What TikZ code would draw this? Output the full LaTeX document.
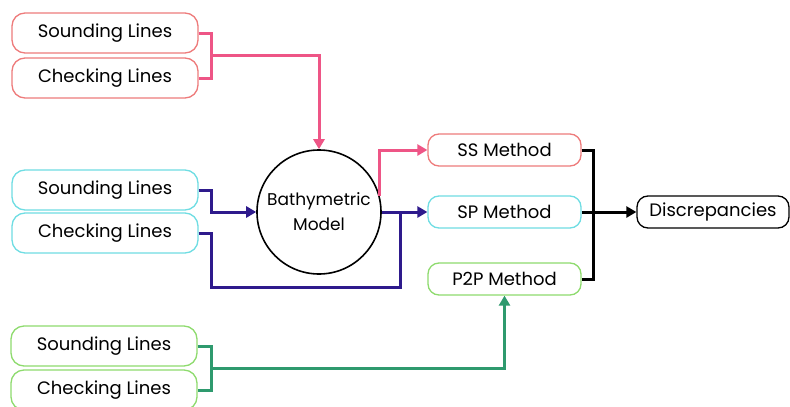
\documentclass[tikz,border=0pt]{standalone}
\usepackage{fontspec}
\setmainfont{Poppins}
\usetikzlibrary{arrows.meta}
\definecolor{redbox}{HTML}{EE7B7B}
\definecolor{pinkline}{HTML}{EE5586}
\definecolor{cyanbox}{HTML}{6FDDE3}
\definecolor{indigoline}{HTML}{2E1A8C}
\definecolor{greenbox}{HTML}{8EDB6E}
\definecolor{greenline}{HTML}{2E9A6E}
\tikzset{
  linebox/.style={draw, line width=1.3pt, rounded corners=13pt, minimum width=186pt, minimum height=40pt, inner sep=0pt, font=\fontsize{18}{20}\selectfont},
  methodbox/.style={draw, line width=1.3pt, rounded corners=11pt, minimum width=153pt, minimum height=32pt, inner sep=0pt, font=\fontsize{18}{20}\selectfont},
  conn/.style={line width=3pt},
  arr/.style={conn, -{Triangle[length=10pt,width=11pt]}},
}
\begin{document}
\begin{tikzpicture}[x=1pt,y=-1pt]
\useasboundingbox (0,0) rectangle (790,407);
\fill[white] (0,0) rectangle (790,407);
% source boxes
\node[linebox, draw=redbox] (rs) at (105,33) {Sounding Lines};
\node[linebox, draw=redbox] (rc) at (105,78) {Checking Lines};
\node[linebox, draw=cyanbox] (cs) at (105,190) {Sounding Lines};
\node[linebox, draw=cyanbox] (cc) at (105,233) {Checking Lines};
\node[linebox, draw=greenbox] (gs) at (104,346) {Sounding Lines};
\node[linebox, draw=greenbox] (gc) at (104,390) {Checking Lines};
% model
\node[circle, draw, line width=1.6pt, minimum size=124pt, inner sep=0pt, align=center, font=\fontsize{17}{25}\selectfont] (bm) at (319,212) {Bathymetric\\Model};
% methods
\node[methodbox, draw=redbox] (ss) at (504.5,150) {SS Method};
\node[methodbox, draw=cyanbox] (sp) at (504.5,212) {SP Method};
\node[methodbox, draw=greenbox] (pp) at (504.5,279) {P2P Method};
\node[methodbox, draw=black, minimum width=152pt] (disc) at (713,212) {Discrepancies};
% junction coordinates
\coordinate (rj) at (211,55);
\coordinate (bj) at (400,287);
\coordinate (gj) at (211,368);
% red connectors
\draw[conn, pinkline] (rs.east) -| (211,78) -- (rc.east);
\draw[arr, pinkline] (rj) -| (bm.north);
\draw[arr, pinkline] (bm.15) |- (ss.west);
% blue connectors
\draw[arr, indigoline] (cs.east) -| (211,212) -- (bm.west);
\draw[conn, indigoline] (cc.east) -| (211,287) -- (bj) -- (400,212);
\draw[arr, indigoline] (bm.east) -- (sp.west);
% black connectors
\draw[conn, black] (ss.east) -| (593,279) -- (pp.east);
\draw[arr, black] (sp.east) -- (disc.west);
% green connectors
\draw[conn, greenline] (gs.east) -| (211,390) -- (gc.east);
\draw[arr, greenline] (gj) -| (pp.south);
\end{tikzpicture}
\end{document}
